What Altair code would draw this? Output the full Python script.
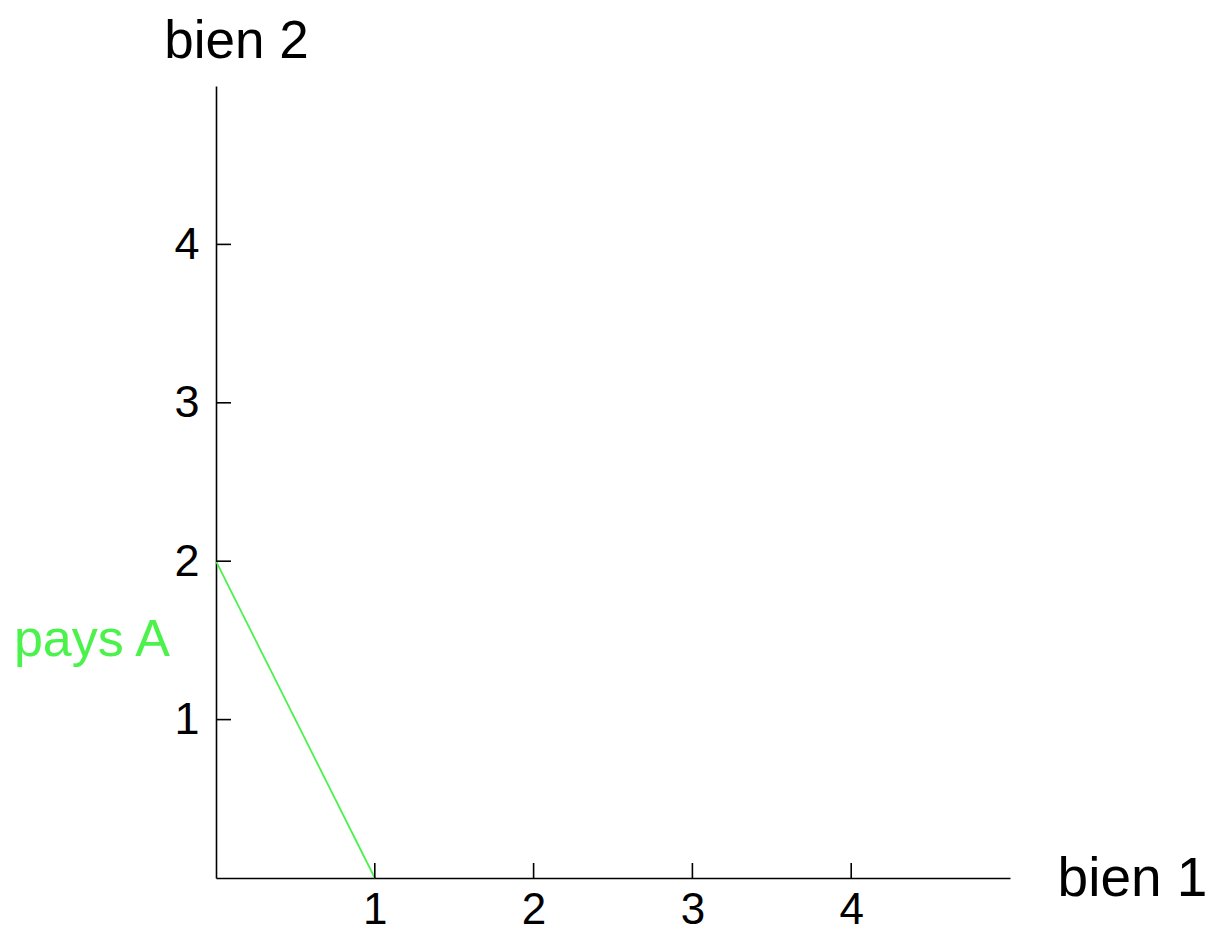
import altair as alt
import pandas as pd

# data
line_x = [0, 1]
line_y = [2, 0]
tick_values = [1, 2, 3, 4]
label_text = ["pays A"]
label_x = [0]
label_y = [1.5]
x_title = "bien 1"
y_title = "bien 2"
green = "#4cf24c"

W, H = 794, 792
FONT = "Liberation Sans"

line_df = pd.DataFrame({"x": line_x, "y": line_y})
ticks_df = pd.DataFrame({"v": tick_values})
lab_df = pd.DataFrame({"t": label_text, "x": label_x, "y": label_y})

xs = alt.Scale(domain=[0, 5], nice=False, zero=False)
ys = alt.Scale(domain=[0, 5], nice=False, zero=False)

xaxis = alt.Axis(values=tick_values, format="d", ticks=False, grid=False, domainColor="black",
                 domainWidth=1.6, labelFont=FONT, labelFontSize=44, labelColor="black",
                 labelBaseline="alphabetic", labelPadding=45, labelAlign="center",
                 title=x_title, titleFont=FONT, titleFontSize=55, titleFontWeight="normal",
                 titleColor="black", titleX=916, titleY=17, titleAlign="center",
                 titleBaseline="alphabetic", titleAngle=0)
yaxis = alt.Axis(values=tick_values, format="d", ticks=False, grid=False, domainColor="black",
                 domainWidth=1.6, labelFont=FONT, labelFontSize=45, labelColor="black",
                 labelBaseline="middle", labelPadding=17, labelAlign="right",
                 title=y_title, titleFont=FONT, titleFontSize=53, titleFontWeight="normal",
                 titleColor="black", titleX=20, titleY=-29, titleAlign="center",
                 titleBaseline="alphabetic", titleAngle=0)

base_line = alt.Chart(line_df).mark_line(color=green, strokeWidth=1.8).encode(
    x=alt.X("x:Q", scale=xs, axis=xaxis),
    y=alt.Y("y:Q", scale=ys, axis=yaxis),
)

xticks = alt.Chart(ticks_df).mark_rule(color="black", strokeWidth=1.6).encode(
    x=alt.X("v:Q", scale=xs),
    y=alt.value(H),
    y2=alt.value(H - 15),
)
yticks = alt.Chart(ticks_df).mark_rule(color="black", strokeWidth=1.6).encode(
    y=alt.Y("v:Q", scale=ys),
    x=alt.value(0),
    x2=alt.value(15),
)
label = alt.Chart(lab_df).mark_text(color=green, font=FONT, fontSize=52, align="right",
                                    baseline="middle", dx=-46).encode(
    x=alt.X("x:Q", scale=xs),
    y=alt.Y("y:Q", scale=ys),
    text="t:N",
)

chart = alt.layer(base_line, xticks, yticks, label).properties(
    width=W, height=H,
    background="white",
    autosize=alt.AutoSizeParams(type="none"),
    padding={"left": 208, "top": 78, "right": 199, "bottom": 54},
).configure_view(strokeWidth=0, stroke=None)

chart.save("out.html", embed_options={"renderer": "svg", "actions": False})
